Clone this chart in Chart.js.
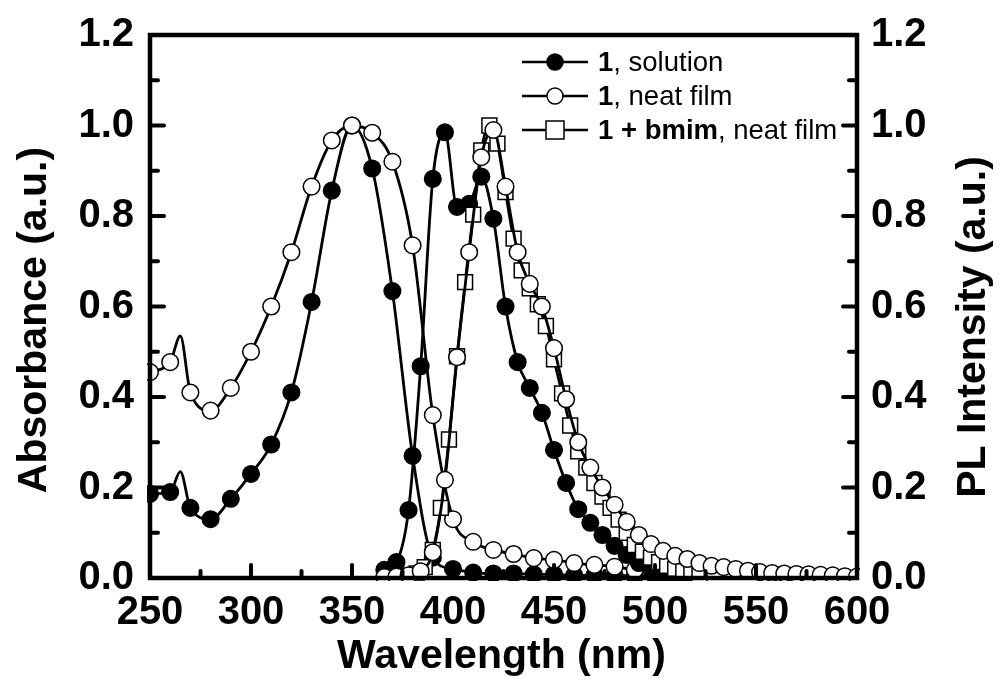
<!DOCTYPE html>
<html>
<head>
<meta charset="utf-8">
<title>Absorbance and PL spectra</title>
<script src="https://cdn.jsdelivr.net/npm/chart.js@4.4.1/dist/chart.umd.min.js"></script>
<style>
  html, body { margin: 0; padding: 0; background: #fff; }
  #chart { display: block; }
</style>
</head>
<body>
<canvas id="chart" width="1000" height="686"></canvas>
<script>
// absorption, markers every 10 nm (265 is a line-only point at the small peak)
const absWl = [250, 260, 265, 270, 280, 290, 300, 310, 320, 330, 340, 350, 360, 370,
  380, 390, 400, 410, 420, 430, 440, 450, 460, 470, 480, 490, 500];
const absSolution = [0.186, 0.19, 0.235, 0.155, 0.13, 0.175, 0.23, 0.295, 0.41, 0.61, 0.856, 1.0, 0.905, 0.634,
  0.27, 0.045, 0.02, 0.012, 0.01, 0.01, 0.008, 0.008, 0.006, 0.006, 0.005, 0.005, 0.004];
const absFilm = [0.455, 0.477, 0.535, 0.41, 0.37, 0.42, 0.5, 0.6, 0.72, 0.865, 0.967, 1.0, 0.984, 0.92,
  0.735, 0.36, 0.13, 0.08, 0.062, 0.053, 0.044, 0.04, 0.033, 0.029, 0.025, 0.018, 0.012];

// PL, 1 in solution
const plSolWl = [366, 372, 378, 384, 390, 396, 402, 408, 414, 420, 426, 432, 438, 444, 450,
  456, 462, 468, 474, 480, 486, 492, 498, 504, 510];
const plSolution = [0.018, 0.035, 0.15, 0.468, 0.882, 0.985, 0.82, 0.827, 0.887, 0.794, 0.60, 0.477, 0.42, 0.365, 0.283,
  0.21, 0.152, 0.122, 0.095, 0.071, 0.051, 0.033, 0.02, 0.01, 0.004];

// PL, 1 neat film
const plFilmWl = [366, 372, 378, 384, 390, 396, 402, 408, 414, 420, 426, 432, 438, 444, 450, 456, 462, 468, 474, 480,
  486, 492, 498, 504, 510, 516, 522, 528, 534, 540, 546, 552, 558, 564, 570, 576, 582, 588, 594, 600];
const plFilm = [0.002, 0.003, 0.006, 0.015, 0.057, 0.217, 0.488, 0.72, 0.93, 0.99, 0.865, 0.72, 0.65, 0.60, 0.508, 0.395, 0.30, 0.244, 0.20, 0.162,
  0.124, 0.095, 0.075, 0.06, 0.049, 0.042, 0.033, 0.027, 0.024, 0.02, 0.016, 0.013, 0.011, 0.01, 0.009, 0.008, 0.007, 0.006, 0.004, 0.003];

// PL, 1 + bmim neat film
const bmimWl = [370, 374, 378, 382, 386, 390, 394, 398, 402, 406, 410, 414, 418, 422, 426, 430, 434, 438, 442, 446,
  450, 454, 458, 462, 466, 470, 474, 478, 482, 486, 490, 494, 498, 502, 506, 510, 514, 518, 522];
const bmimFilm = [0.002, 0.003, 0.005, 0.01, 0.024, 0.062, 0.155, 0.306, 0.49, 0.654, 0.803, 0.945, 1.0, 0.96, 0.853, 0.75, 0.68, 0.64, 0.605, 0.557,
  0.483, 0.408, 0.337, 0.28, 0.244, 0.21, 0.18, 0.155, 0.129, 0.10, 0.073, 0.058, 0.045, 0.035, 0.027, 0.02, 0.015, 0.011, 0.008];

const xTicks = [250, 300, 350, 400, 450, 500, 550, 600];
const yTicks = [0.0, 0.2, 0.4, 0.6, 0.8, 1.0, 1.2];

const legendRows = [
  { bold: '1', rest: ', solution', style: 'filled' },
  { bold: '1', rest: ', neat film', style: 'open' },
  { bold: '1 + bmim', rest: ', neat film', style: 'square' }
];

const FONT = '"Liberation Sans", Arial, Helvetica, sans-serif';
Chart.defaults.font.family = FONT;
Chart.defaults.color = '#000';

const pts = (xs, ys) => xs.map((x, i) => ({ x: x, y: ys[i] }));
// absorbance markers only on the 10 nm grid
const every10 = r => ctx => (ctx.raw && ctx.raw.x % 10 === 0 ? r : 0);

const lineBase = {
  borderColor: '#000',
  borderWidth: 2.8,
  pointBorderColor: '#000',
  pointBorderWidth: 1.5,
  cubicInterpolationMode: 'monotone',
  clip: 3
};

// plugin: boxed frame with inward ticks, axis titles and the legend
const decorations = {
  id: 'decorations',
  afterDatasetsDraw(chart) {
    const { ctx, chartArea: a, scales } = chart;
    const x = scales.x, y = scales.y;
    ctx.save();
    ctx.strokeStyle = '#000';
    ctx.lineCap = 'round';
    ctx.lineWidth = 4;
    for (let v = 250; v <= 600; v += 25) {
      const px = x.getPixelForValue(v);
      const len = v % 50 === 0 ? 13 : 7;
      ctx.beginPath(); ctx.moveTo(px, a.bottom); ctx.lineTo(px, a.bottom - len); ctx.stroke();
    }
    for (let k = 0; k <= 12; k++) {
      const py = y.getPixelForValue(k / 10);
      const len = k % 2 === 0 ? 14 : 8;
      ctx.beginPath(); ctx.moveTo(a.left, py); ctx.lineTo(a.left + len, py); ctx.stroke();
      ctx.beginPath(); ctx.moveTo(a.right, py); ctx.lineTo(a.right - len, py); ctx.stroke();
    }
    ctx.lineCap = 'butt';
    ctx.lineWidth = 4.5;
    ctx.strokeRect(a.left, a.top, a.right - a.left, a.bottom - a.top);
    ctx.restore();
  },
  afterDraw(chart) {
    const { ctx, chartArea: a } = chart;
    ctx.save();
    ctx.fillStyle = '#000';
    ctx.textAlign = 'center';
    ctx.textBaseline = 'middle';
    ctx.font = 'bold 41px ' + FONT;
    ctx.fillText('Wavelength (nm)', (a.left + a.right) / 2 - 2, 657);
    ctx.save();
    ctx.translate(35, 320);
    ctx.rotate(-Math.PI / 2);
    ctx.fillText('Absorbance (a.u.)', 0, 0);
    ctx.restore();
    ctx.save();
    ctx.translate(974, 327);
    ctx.rotate(-Math.PI / 2);
    ctx.fillText('PL Intensity (a.u.)', 0, 0);
    ctx.restore();

    // legend
    const x0 = 522, x1 = 588, xm = 555, tx = 598;
    const rowsY = [62, 96, 130];
    ctx.textAlign = 'left';
    ctx.lineWidth = 2.5;
    ctx.strokeStyle = '#000';
    legendRows.forEach((row, i) => {
      const yy = rowsY[i];
      ctx.beginPath(); ctx.moveTo(x0, yy); ctx.lineTo(x1, yy); ctx.stroke();
      ctx.lineWidth = 1.5;
      ctx.fillStyle = row.style === 'filled' ? '#000' : '#fff';
      ctx.beginPath();
      if (row.style === 'square') ctx.rect(xm - 9, yy - 9, 18, 18);
      else ctx.arc(xm, yy, 8, 0, Math.PI * 2);
      ctx.fill(); ctx.stroke();
      ctx.lineWidth = 2.5;
      ctx.fillStyle = '#000';
      ctx.font = 'bold 27.5px ' + FONT;
      ctx.fillText(row.bold, tx, yy + 1);
      const w = ctx.measureText(row.bold).width;
      ctx.font = '27.5px ' + FONT;
      ctx.fillText(row.rest, tx + w, yy + 1);
    });
    ctx.restore();
  }
};

const tickFont = { size: 40, weight: 'bold', family: FONT };
// fixed axis box sizes so the plot frame sits where the reference has it
const fitY = w => s => { s.width = w; s.paddingTop = 0; s.paddingBottom = 0; };

new Chart(document.getElementById('chart'), {
  type: 'line',
  data: {
    datasets: [
      Object.assign({}, lineBase, {
        label: '1, neat film (PL)', yAxisID: 'y1',
        data: pts(plFilmWl, plFilm),
        pointRadius: 8.3, pointBackgroundColor: '#fff'
      }),
      Object.assign({}, lineBase, {
        label: '1 + bmim, neat film', yAxisID: 'y1',
        data: pts(bmimWl, bmimFilm),
        pointStyle: 'rect', pointRadius: 10.5, pointBackgroundColor: '#fff'
      }),
      Object.assign({}, lineBase, {
        label: '1, solution (PL)', yAxisID: 'y1',
        data: pts(plSolWl, plSolution),
        pointRadius: 8.3, pointBackgroundColor: '#000'
      }),
      Object.assign({}, lineBase, {
        label: '1, neat film (Abs)', yAxisID: 'y',
        data: pts(absWl, absFilm),
        pointRadius: every10(8.3), pointBackgroundColor: '#fff'
      }),
      Object.assign({}, lineBase, {
        label: '1, solution (Abs)', yAxisID: 'y',
        data: pts(absWl, absSolution),
        pointRadius: every10(8.3), pointBackgroundColor: '#000'
      })
    ]
  },
  options: {
    responsive: false,
    animation: false,
    events: [],
    layout: { padding: { top: 35, left: 0, right: 0, bottom: 0 } },
    plugins: { legend: { display: false }, tooltip: { enabled: false } },
    scales: {
      x: {
        type: 'linear', min: 250, max: 600,
        afterFit: s => { s.height = 108; },
        afterBuildTicks: s => { s.ticks = xTicks.map(v => ({ value: v })); },
        grid: { display: false, drawTicks: false },
        border: { display: false },
        ticks: { font: tickFont, padding: 11, maxRotation: 0, autoSkip: false, color: '#000' }
      },
      y: {
        position: 'left', min: 0, max: 1.2,
        afterFit: fitY(150),
        afterBuildTicks: s => { s.ticks = yTicks.map(v => ({ value: v })); },
        grid: { display: false, drawTicks: false },
        border: { display: false },
        ticks: { font: tickFont, padding: 16, color: '#000', callback: v => v.toFixed(1) }
      },
      y1: {
        position: 'right', min: 0, max: 1.2,
        afterFit: fitY(143),
        afterBuildTicks: s => { s.ticks = yTicks.map(v => ({ value: v })); },
        grid: { display: false, drawTicks: false },
        border: { display: false },
        ticks: { font: tickFont, padding: 14, color: '#000', callback: v => v.toFixed(1) }
      }
    }
  },
  plugins: [decorations]
});
</script>
</body>
</html>
